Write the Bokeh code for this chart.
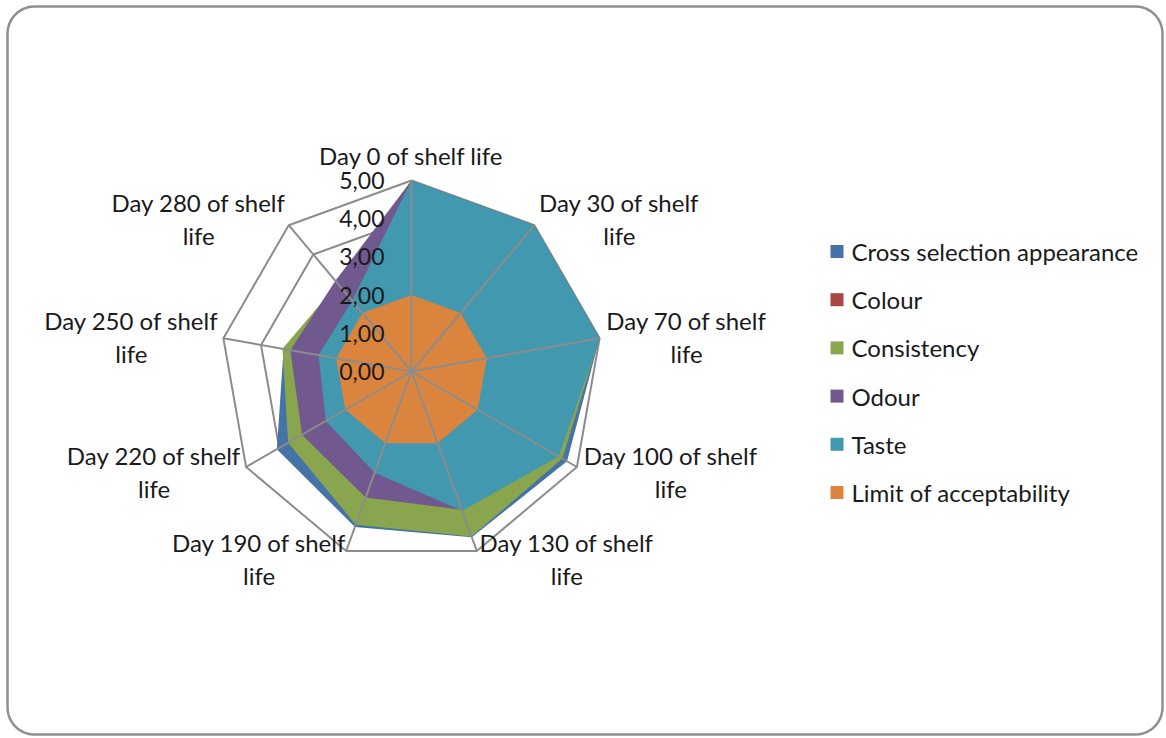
import numpy as np
from bokeh.plotting import figure
from bokeh.models import Range1d
from bokeh.core.properties import value
from bokeh.embed import file_html
from bokeh.resources import INLINE

# ---------------- data ----------------
categories = ["Day 0 of shelf life", "Day 30 of shelf life", "Day 70 of shelf life",
              "Day 100 of shelf life", "Day 130 of shelf life", "Day 190 of shelf life",
              "Day 220 of shelf life", "Day 250 of shelf life", "Day 280 of shelf life"]
cat_line1 = ["Day 0 of shelf life", "Day 30 of shelf", "Day 70 of shelf", "Day 100 of shelf",
             "Day 130 of shelf", "Day 190 of shelf", "Day 220 of shelf", "Day 250 of shelf",
             "Day 280 of shelf"]
cat_line2 = ["", "life", "life", "life", "life", "life", "life", "life", "life"]

series_names = ["Cross selection appearance", "Colour", "Consistency", "Odour", "Taste",
                "Limit of acceptability"]
appearance = [5.00, 5.00, 5.00, 4.70, 4.62, 4.33, 4.07, 3.40, 3.00]
colour = [5.00, 5.00, 5.00, 4.50, 4.55, 4.20, 3.65, 3.35, 2.95]
consistency = [5.00, 5.00, 5.00, 4.56, 4.60, 4.27, 3.73, 3.43, 3.00]
odour = [5.00, 5.00, 5.00, 4.40, 3.85, 3.51, 3.31, 3.22, 3.10]
taste = [5.00, 5.00, 5.00, 4.45, 3.88, 2.82, 2.59, 2.47, 2.42]
limit = [2.00, 2.00, 2.00, 2.00, 2.00, 2.00, 2.00, 2.00, 2.00]
tick_values = [0, 1, 2, 3, 4, 5]
tick_labels = ["0,00", "1,00", "2,00", "3,00", "4,00", "5,00"]

colors = ["#4572A7", "#AA4643", "#89A54E", "#71588F", "#4198AF", "#DB843D"]

# ---------------- layout ----------------
W, H = 1164, 736
CX, CY, R, VMAX = 411, 371, 191, 5.0
FONT = value("Lato")
TXT = "#1a1a1a"
GRID = "#8c8c8c"
# label centre offsets from the outer vertex (dx, dy of first line)
label_off = [(0, -25), (85, -23), (87, -18), (94, -12), (90, -8),
             (-87, -8), (-92, -12), (-92, -18), (-90, -23)]
LINE_GAP = 33

p = figure(width=W, height=H, x_range=Range1d(0, W), y_range=Range1d(H, 0),
           output_backend="svg", toolbar_location=None, x_axis_type=None, y_axis_type=None,
           min_border=0, outline_line_color=None, background_fill_color="white",
           border_fill_color="white")

n = len(categories)
theta = np.arange(n) * 2 * np.pi / n


def poly(vals):
    r = np.asarray(vals, dtype=float) / VMAX * R
    return list(CX + r * np.sin(theta)), list(CY - r * np.cos(theta))


# rounded chart border
def rounded_rect(l, t, r_, b, rad, k=12):
    xs, ys = [], []
    corners = [(r_ - rad, t + rad, -np.pi / 2, 0), (r_ - rad, b - rad, 0, np.pi / 2),
               (l + rad, b - rad, np.pi / 2, np.pi), (l + rad, t + rad, np.pi, 1.5 * np.pi)]
    for cx, cy, a0, a1 in corners:
        a = np.linspace(a0, a1, k)
        xs += list(cx + rad * np.cos(a))
        ys += list(cy + rad * np.sin(a))
    xs.append(xs[0]); ys.append(ys[0])
    return xs, ys


bx, by = rounded_rect(7, 6, 1162, 734, 27)
p.line(bx, by, line_color="#8f8f8f", line_width=2.5)

# concentric grid polygons
for v in tick_values[1:]:
    gx, gy = poly([v] * n)
    p.line(gx + gx[:1], gy + gy[:1], line_color=GRID, line_width=2)

# filled series
for vals, col in zip([appearance, colour, consistency, odour, taste, limit], colors):
    sx, sy = poly(vals)
    p.patch(sx, sy, fill_color=col, line_color=None)

# spokes on top
ox, oy = poly([VMAX] * n)
for i in range(n):
    p.line([CX, ox[i]], [CY, oy[i]], line_color=GRID, line_width=2)

# tick labels
p.text(x=[CX - 27] * len(tick_values), y=[CY - v / VMAX * R for v in tick_values],
       text=tick_labels, text_font=FONT, text_font_size="23px", text_color=TXT,
       text_align="right", text_baseline="middle")

# category labels
lx = [ox[i] + label_off[i][0] for i in range(n)]
ly1 = [oy[i] + label_off[i][1] for i in range(n)]
ly2 = [y + LINE_GAP for y in ly1]
p.text(x=lx, y=ly1, text=cat_line1, text_font=FONT, text_font_size="24px", text_color=TXT,
       text_align="center", text_baseline="middle")
p.text(x=lx, y=ly2, text=cat_line2, text_font=FONT, text_font_size="24px", text_color=TXT,
       text_align="center", text_baseline="middle")

# legend
leg_y = [251 + 48.2 * i for i in range(len(series_names))]
p.rect(x=[836.5] * len(series_names), y=leg_y, width=13, height=13, fill_color=colors,
       line_color=None)
p.text(x=[851] * len(series_names), y=leg_y, text=series_names, text_font=FONT,
       text_font_size="24px", text_color=TXT, text_align="left", text_baseline="middle")

open("out.html", "w").write(file_html(p, INLINE))
